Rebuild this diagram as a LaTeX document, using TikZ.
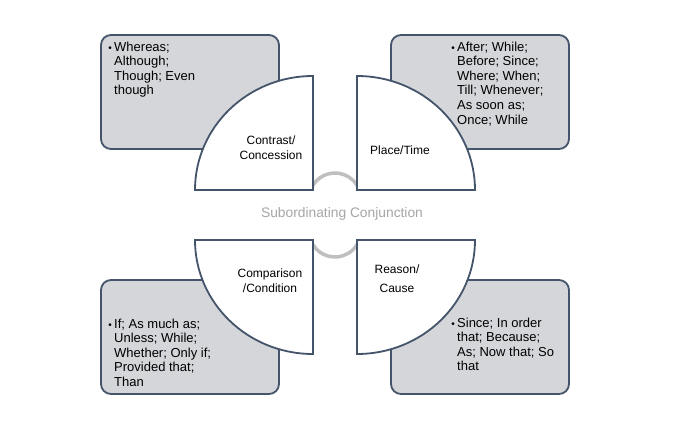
\documentclass[tikz,border=0pt]{standalone}
\usepackage{fontspec}
\setmainfont{Liberation Sans}
\definecolor{edgec}{RGB}{68,84,106}
\definecolor{boxfill}{RGB}{213,214,217}
\definecolor{ringc}{RGB}{191,191,191}
\definecolor{centertext}{RGB}{166,166,166}
\begin{document}
\begin{tikzpicture}[x=1pt,y=1pt,
  infobox/.style={draw=edgec,fill=boxfill,line width=1.8pt,rounded corners=10pt},
  quarter/.style={draw=edgec,fill=white,line width=1.8pt,line join=miter},
  ring/.style={draw=ringc,line width=3.5pt},
  boxtext/.style={anchor=north west,inner sep=0pt,align=left,font=\fontsize{13}{14.6}\selectfont},
  bullet/.style={anchor=base east,inner sep=0pt,font=\fontsize{10}{12}\selectfont},
  qlabel/.style={inner sep=0pt,align=center,font=\fontsize{12}{15}\selectfont}]
\useasboundingbox (0,0) rectangle (693,426);
\fill[white] (0,0) rectangle (693,426);
% gray boxes
\draw[infobox] (101,391) rectangle (279,277);
\draw[infobox] (391,391) rectangle (569,277);
\draw[infobox] (101,146) rectangle (279,32);
\draw[infobox] (391,146) rectangle (569,32);
% central ring arcs
\draw[ring] (335,227) ++(160:26) arc[start angle=160,end angle=20,radius=26];
\draw[ring] (335,195) ++(200:26) arc[start angle=200,end angle=340,radius=26];
% quarters
\draw[quarter] (313,236) -- (195,236) arc[start angle=180,end angle=90,x radius=118,y radius=114] -- cycle;
\draw[quarter] (357,236) -- (357,350) arc[start angle=90,end angle=0,x radius=118,y radius=114] -- cycle;
\draw[quarter] (313,186) -- (195,186) arc[start angle=180,end angle=270,x radius=118,y radius=114] -- cycle;
\draw[quarter] (357,186) -- (475,186) arc[start angle=0,end angle=-90,x radius=118,y radius=114] -- cycle;
% quarter labels
\node[qlabel] (lab1) at (271,278) {Contrast/\\Concession};
\node[qlabel] (lab2) at (400,276) {Place/Time};
\node[qlabel] (lab3) at (270,145) {Comparison\\/Condition};
\node[qlabel] (lab4) at (397,147) {Reason/\\[4pt]Cause};
% center text
\node[inner sep=0pt,text=centertext,font=\fontsize{13.8}{16}\selectfont] (center) at (342,212) {Subordinating Conjunction};
% box texts
\node[boxtext] (t1) at (114,384.5) {Whereas;\\Although;\\Though; Even\\though};
\node[bullet] (b1) at (112,374.5) {•};
\node[boxtext] (t2) at (457,384.5) {After; While;\\Before; Since;\\Where; When;\\Till; Whenever;\\As soon as;\\Once; While};
\node[bullet] (b2) at (455,374.5) {•};
\node[boxtext] (t3) at (114,107.5) {If; As much as;\\Unless; While;\\Whether; Only if;\\Provided that;\\Than};
\node[bullet] (b3) at (112,97.5) {•};
\node[boxtext] (t4) at (457,108.5) {Since; In order\\that; Because;\\As; Now that; So\\that};
\node[bullet] (b4) at (455,98.5) {•};
\end{tikzpicture}
\end{document}
